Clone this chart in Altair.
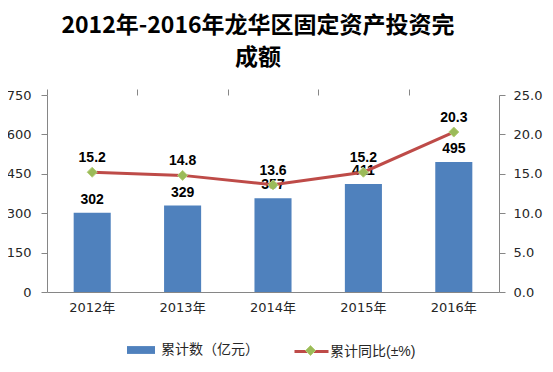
import altair as alt
import pandas as pd

years = ["2012年", "2013年", "2014年", "2015年", "2016年"]
amount = [302, 329, 357, 411, 495]
growth = [15.2, 14.8, 13.6, 15.2, 20.3]
bar_name = "累计数（亿元）"
line_name = "累计同比(±%)"
title_lines = ["2012年-2016年龙华区固定资产投资完", "成额"]
left_ticks = [0, 150, 300, 450, 600, 750]
right_ticks = [0, 5, 10, 15, 20, 25]

df = pd.DataFrame({"year": years, "amount": amount, "growth": growth,
                   "bs": [bar_name] * 5, "ls": [line_name] * 5, "ps": [line_name] * 5})

FONT = "DejaVu Sans, Noto Sans CJK SC"
LFONT = "Liberation Sans, Noto Sans CJK SC"
BLUE = "#4F81BD"
RED = "#BE4B48"
GREEN = "#9BBB59"
AXC = "#868686"
TXT = "#262626"

P_IN = 0.59
P_OUT = 0.295
STEP = 452 / 5
TICK_OFF = -P_IN * STEP / 2

xscale = alt.Scale(paddingInner=P_IN, paddingOuter=P_OUT)

base = alt.Chart(df)

bars = base.mark_bar().encode(
    x=alt.X("year:N", sort=years, title=None, scale=xscale,
            axis=alt.Axis(labelAngle=0, labelFont=FONT, labelFontSize=13, labelColor=TXT,
                          domainColor=AXC, ticks=False, labelPadding=9, labelOverlap=False)),
    y=alt.Y("amount:Q", title=None, scale=alt.Scale(domain=[0, 750], nice=False),
            axis=alt.Axis(values=left_ticks, tickCount=20, grid=False, labelFont=FONT,
                          labelFontSize=13, labelColor=TXT, domainColor=AXC, tickColor=AXC,
                          tickSize=6, labelPadding=10, labelOverlap=False, labelFlush=False)),
    color=alt.Color("bs:N", scale=alt.Scale(range=[BLUE]),
                    legend=alt.Legend(title=None, orient="none", legendX=80, legendY=241,
                                      symbolType="M-1,-0.28H1V0.28H-1Z", symbolSize=784,
                                      symbolStrokeWidth=0, labelFont=LFONT, labelFontSize=14,
                                      labelColor=TXT, labelOffset=6)),
)
bar_text = base.mark_text(dy=-6, baseline="bottom", fontWeight="bold", fontSize=14,
                          font=LFONT, color="black").encode(
    x=alt.X("year:N", sort=years), y=alt.Y("amount:Q"), text="amount:Q")

left = alt.layer(bars, bar_text)

yr = alt.Y("growth:Q", title=None, scale=alt.Scale(domain=[0, 25], nice=False),
           axis=alt.Axis(orient="right", values=right_ticks, tickCount=20, format=".1f",
                         grid=False, labelFont=FONT, labelFontSize=13, labelColor=TXT,
                         domainColor=AXC, tickColor=AXC, tickSize=6, labelPadding=8,
                         labelOverlap=False, labelFlush=False))

line = base.mark_line(strokeWidth=3).encode(
    x=alt.X("year:N", sort=years, title=None,
            axis=alt.Axis(labels=False, domain=False, ticks=True, tickColor=AXC, tickSize=6,
                          bandPosition=0, tickOffset=TICK_OFF)),
    y=yr,
    stroke=alt.Stroke("ls:N", scale=alt.Scale(range=[RED]),
                      legend=alt.Legend(title=None, orient="none", legendX=246, legendY=238,
                                        symbolType="M-1,0H1", symbolSize=1156,
                                        symbolStrokeWidth=3, labelFont=LFONT, labelFontSize=14,
                                        labelColor=TXT, labelOffset=0)),
)
points = base.mark_point(shape="diamond", filled=True, size=100, opacity=1,
                         stroke="#B5CF7A", strokeWidth=1).encode(
    x=alt.X("year:N", sort=years), y=alt.Y("growth:Q"),
    fill=alt.Fill("ps:N", scale=alt.Scale(range=[GREEN]),
                  legend=alt.Legend(title=None, orient="none", legendX=258, legendY=250,
                                    symbolType="diamond", symbolSize=100,
                                    symbolStrokeColor="#B5CF7A", symbolStrokeWidth=1,
                                    labelExpr="''", labelFontSize=1)),
)
line_text = base.mark_text(dy=-7, baseline="bottom", fontWeight="bold", fontSize=14,
                           font=LFONT, color="black").encode(
    x=alt.X("year:N", sort=years), y=alt.Y("growth:Q"),
    text=alt.Text("growth:Q", format=".1f"))

right = alt.layer(line, points, line_text)

chart = alt.layer(left, right).resolve_scale(
    y="independent", color="independent"
).resolve_axis(x="independent").properties(
    width=452, height=197,
    autosize=alt.AutoSizeParams(type="none"),
    padding={"left": 39, "top": 87, "right": 46, "bottom": 72},
    title=alt.TitleParams(text=title_lines, fontSize=23, fontWeight="bold",
                          font="Noto Sans CJK SC", lineHeight=32, anchor="middle", dx=-15,
                          offset=19, color="black"),
).configure_view(stroke=None)

chart.save("out.html", embed_options={"renderer": "svg", "actions": False})
